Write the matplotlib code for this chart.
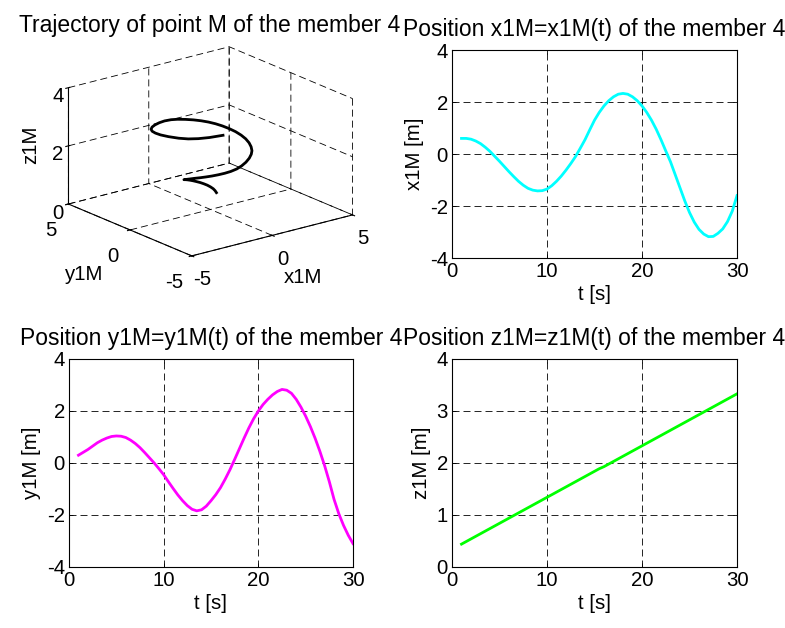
import numpy as np
import matplotlib
matplotlib.use("Agg")
import matplotlib.pyplot as plt

plt.rcParams["font.family"] = ["Liberation Sans", "DejaVu Sans"]
plt.rcParams["font.size"] = 14.7
plt.rcParams["axes.unicode_minus"] = False

# values (t from 1 to 30 in steps of 0.5)
t = np.arange(1, 30.5, 0.5)
x1M = [0.60, 0.60, 0.57, 0.50, 0.40, 0.26, 0.10, -0.09, -0.28, -0.48,
       -0.68, -0.87, -1.05, -1.20, -1.32, -1.39, -1.42, -1.41, -1.35, -1.22,
       -1.05, -0.85, -0.62, -0.37, -0.10, 0.22, 0.55, 0.93, 1.30, 1.60,
       1.85, 2.05, 2.20, 2.30, 2.33, 2.30, 2.20, 2.05, 1.85, 1.60,
       1.30, 0.95, 0.55, 0.12, -0.30, -0.80, -1.30, -1.80, -2.25, -2.62,
       -2.90, -3.08, -3.18, -3.17, -3.05, -2.88, -2.60, -2.20, -1.60]
y1M = [0.30, 0.41, 0.52, 0.65, 0.78, 0.88, 0.96, 1.02, 1.04, 1.03,
       0.98, 0.88, 0.75, 0.59, 0.40, 0.20, 0.00, -0.22, -0.45, -0.72,
       -0.98, -1.23, -1.45, -1.64, -1.78, -1.84, -1.80, -1.66, -1.45, -1.22,
       -0.95, -0.62, -0.26, 0.14, 0.55, 0.96, 1.35, 1.70, 2.00, 2.25,
       2.45, 2.62, 2.75, 2.83, 2.80, 2.68, 2.45, 2.15, 1.80, 1.40,
       0.95, 0.45, -0.10, -0.72, -1.40, -1.95, -2.40, -2.78, -3.10]
z1M = [0.44, 0.49, 0.54, 0.59, 0.64, 0.69, 0.74, 0.79, 0.84, 0.89,
       0.94, 0.99, 1.04, 1.09, 1.14, 1.19, 1.24, 1.29, 1.34, 1.39,
       1.44, 1.49, 1.54, 1.59, 1.64, 1.69, 1.74, 1.79, 1.84, 1.89,
       1.93, 1.98, 2.03, 2.08, 2.13, 2.18, 2.23, 2.28, 2.33, 2.38,
       2.43, 2.48, 2.53, 2.58, 2.63, 2.68, 2.73, 2.78, 2.83, 2.88,
       2.93, 2.98, 3.03, 3.08, 3.13, 3.18, 3.23, 3.28, 3.33]

W, H = 785, 628
fig = plt.figure(figsize=(W / 100, H / 100), dpi=100)
fig.patch.set_facecolor("white")


def rect(left, top, right, bottom):
    return [left / W, 1 - bottom / H, (right - left) / W, (bottom - top) / H]


dash = (0, (8.4, 4.8))
title_size = 16.5


def style2d(ax, ylim, yticks):
    ax.set_xlim(0, 30)
    ax.set_xticks([0, 10, 20, 30])
    ax.set_ylim(*ylim)
    ax.set_yticks(yticks)
    ax.grid(True, color="k", linestyle=dash, linewidth=0.6)
    ax.tick_params(direction="in", length=3, width=0.6, top=True, right=True, pad=3)
    for s in ax.spines.values():
        s.set_linewidth(0.8)
    ax.set_xlabel("t [s]", labelpad=3)


# 3D trajectory
L = 280
ax3 = fig.add_axes([66.7 / W, 1 - (15.1 + L) / H, L / W, L / H], projection="3d",
                   proj_type="ortho")
ax3.plot(x1M, y1M, z1M, color="k", linewidth=2)
ax3.set_xlim(-5, 5, view_margin=0)
ax3.set_ylim(-5, 5, view_margin=0)
ax3.set_zlim(0, 4, view_margin=0)
ax3.set_xticks([-5, 0, 5])
ax3.set_yticks([-5, 0, 5])
ax3.set_zticks([0, 2, 4])
ax3.view_init(elev=19.1, azim=-127.9)
ax3.set_box_aspect((1, 0.986, 0.604), zoom=1.08)
for axis in (ax3.xaxis, ax3.yaxis, ax3.zaxis):
    axis.set_pane_color((1, 1, 1, 0))
    axis._axinfo["grid"].update(color="k", linewidth=0.6, linestyle=dash)
    axis.line.set_linewidth(0.8)
ax3.xaxis.set_tick_params(pad=1)
ax3.zaxis.set_tick_params(pad=-4.2)
ax3.set_xlabel("x1M", labelpad=5)
ax3.set_ylabel("y1M", labelpad=9)
ax3.set_zlabel("z1M", labelpad=-7)
ax3.zaxis.set_rotate_label(True)
fig.text(210 / W, 1 - 31.7 / H, "Trajectory of point M of the member 4",
         ha="center", va="baseline", fontsize=title_size)

# x1M(t)
ax = fig.add_axes(rect(452, 50, 737, 258))
ax.plot(t, x1M, color="cyan", linewidth=2)
style2d(ax, (-4, 4), [-4, -2, 0, 2, 4])
ax.set_ylabel("x1M [m]")
ax.set_title("Position x1M=x1M(t) of the member 4", fontsize=title_size, pad=10)

# y1M(t)
ax = fig.add_axes(rect(69, 359, 353, 567))
ax.plot(t, y1M, color="magenta", linewidth=2)
style2d(ax, (-4, 4), [-4, -2, 0, 2, 4])
ax.set_ylabel("y1M [m]")
ax.set_title("Position y1M=y1M(t) of the member 4", fontsize=title_size, pad=10)

# z1M(t)
ax = fig.add_axes(rect(452, 359, 737, 567))
ax.plot(t, z1M, color="lime", linewidth=2)
style2d(ax, (0, 4), [0, 1, 2, 3, 4])
ax.set_ylabel("z1M [m]")
ax.set_title("Position z1M=z1M(t) of the member 4", fontsize=title_size, pad=10)

fig.savefig("out.png", dpi=100, facecolor="white")
